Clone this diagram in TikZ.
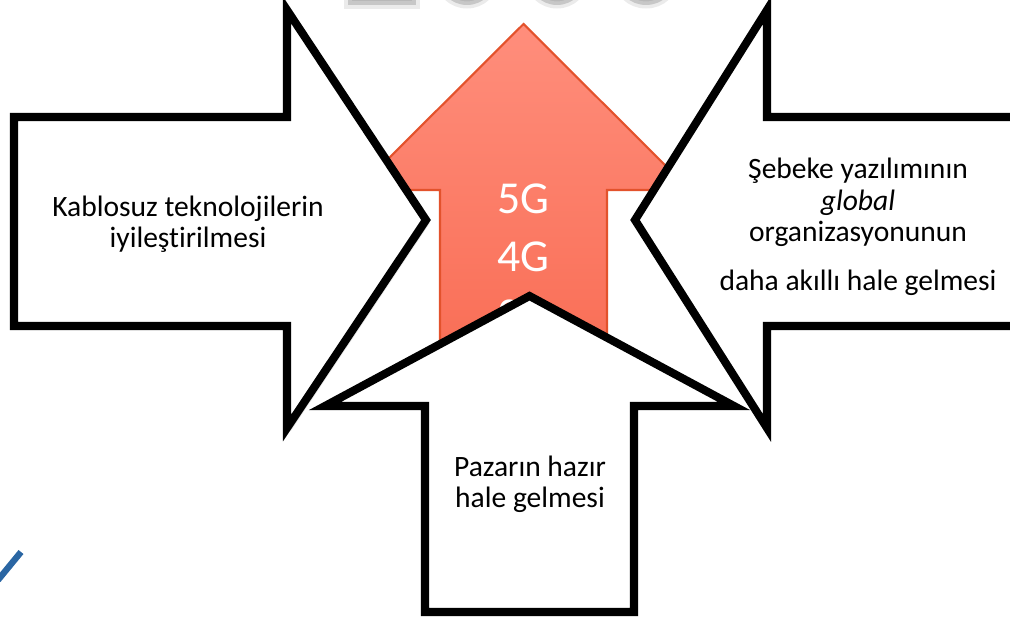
\documentclass[tikz,border=0pt]{standalone}
\usepackage{fontspec}
\setmainfont{Carlito}[RawFeature={-liga;-clig;-dlig}]
\usetikzlibrary{shadows}
\definecolor{redtop}{HTML}{FF8E7C}
\definecolor{redbottom}{HTML}{F7654B}
\definecolor{redline}{HTML}{E3522C}
\definecolor{logoblue}{HTML}{2A66A3}
\definecolor{titlegray}{HTML}{A6A6A6}

\begin{document}
\begin{tikzpicture}[x=0.01cm, y=-0.01cm,
    blockarrow/.style={draw=black, line width=2.3pt, fill=white, line join=miter, drop shadow={shadow xshift=1pt, shadow yshift=-1pt, opacity=0.2}},
    redarrow/.style={draw=redline, line width=0.6pt, top color=redtop, bottom color=redbottom},
    arrowtext/.style={align=center, font=\fontsize{8.4}{8.9}\selectfont, inner sep=0pt},
    gentext/.style={align=center, text=white, font=\fontsize{13}{16.5}\selectfont, inner sep=0pt},
    titleblob/.style={fill=titlegray!80, draw=titlegray!45, line width=2pt, draw opacity=0.5}
]
\useasboundingbox (0,0) rectangle (1010,622);
\clip (0,0) rectangle (1010,622);

% Title remnants (top edge)
\path[titleblob] (348,-20) rectangle (416,5);
\path[titleblob] (467,-22) ellipse [x radius=28, y radius=27];
\path[titleblob] (557,-22) ellipse [x radius=28, y radius=27];
\path[titleblob] (646,-22) ellipse [x radius=29, y radius=27];

% Logo remnant (bottom left)
\draw[logoblue, line width=1.8pt] (-2,580) -- (21,552);

% Central red arrow
\draw[redarrow] (523.5,24) -- (690,190) -- (607,190) -- (607,450) -- (440,450) -- (440,190) -- (357,190) -- cycle;
\node[gentext] (nesil) at (523,257) {5G\\4G\\3G};

% Left arrow
\draw[blockarrow] (14,117) -- (287,117) -- (287,10) -- (426,220) -- (287,428) -- (287,326) -- (14,326) -- cycle;
\node[arrowtext] (kablosuz) at (188,224) {Kablosuz teknolojilerin\\iyileştirilmesi};

% Right arrow
\draw[blockarrow] (1030,117) -- (767,117) -- (767,10) -- (635,220) -- (767,428) -- (767,326) -- (1030,326) -- cycle;
\node[arrowtext] (sebeke) at (858,227) {Şebeke yazılımının\\\textit{global}\\organizasyonunun\\[5pt]daha akıllı hale gelmesi};

% Bottom arrow
\draw[blockarrow] (425,612) -- (425,406) -- (325,406) -- (529.5,296) -- (734,406) -- (634,406) -- (634,612) -- cycle;
\node[arrowtext] (pazar) at (530,484) {Pazarın hazır\\hale gelmesi};

\end{tikzpicture}
\end{document}
